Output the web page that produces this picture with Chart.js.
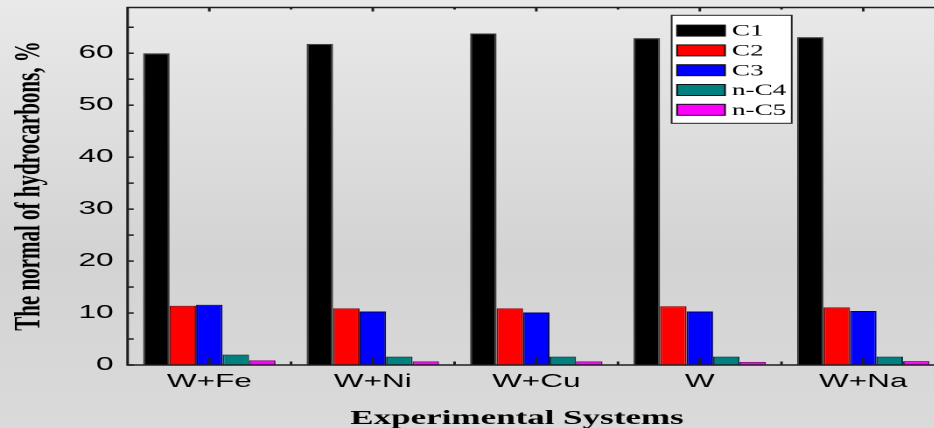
<!DOCTYPE html>
<html>
<head>
<meta charset="utf-8">
<script src="https://cdn.jsdelivr.net/npm/chart.js@4.4.1/dist/chart.umd.min.js"></script>
<style>
html, body { margin: 0; padding: 0; width: 934px; height: 428px; overflow: hidden; }
body { background: linear-gradient(to bottom, #e9e9e9 0%, #dedede 30%, #d3d3d3 60%, #dadada 100%); }
/* the original figure is stretched sideways, so draw narrow and scale it */
#wrap { position: absolute; left: 0; top: 0; width: 540px; height: 428px; transform: scaleX(1.75); transform-origin: 0 0; }
</style>
</head>
<body>
<div id="wrap"><canvas id="chart"></canvas></div>
<script>
const categories = ["W+Fe", "W+Ni", "W+Cu", "W", "W+Na"];
const c1 = [60.0, 61.8, 63.8, 62.9, 63.1];
const c2 = [11.4, 10.9, 10.9, 11.3, 11.1];
const c3 = [11.6, 10.3, 10.1, 10.3, 10.4];
const nC4 = [2.0, 1.6, 1.6, 1.6, 1.6];
const nC5 = [0.9, 0.7, 0.7, 0.6, 0.75];
const seriesLabels = ["C1", "C2", "C3", "n-C4", "n-C5"];
const seriesColors = ["#000000", "#ff0000", "#0000ff", "#008080", "#ff00ff"];
const seriesBorders = ["#3a3a3a", "#8b0000", "#00006e", "#003c3c", "#7a007a"];
const yMax = 68.8;
const yStep = 10;
const yMinorStep = 5;

const serifFont = '"Liberation Serif", "Times New Roman", serif';
const sansFont = '"Liberation Sans", Arial, sans-serif';

// frame and inward tick marks, drawn over the bars like the original
const framePlugin = {
    id: 'frame',
    afterDatasetsDraw(chart) {
        const { ctx, chartArea: a, scales: { x, y } } = chart;
        ctx.save();
        ctx.strokeStyle = '#1e1e1e';
        ctx.lineWidth = 1.5;
        const line = (x1, y1, x2, y2) => {
            ctx.beginPath(); ctx.moveTo(x1, y1); ctx.lineTo(x2, y2); ctx.stroke();
        };
        for (let v = 0; v <= yMax; v += yMinorStep) {
            const py = y.getPixelForValue(v);
            line(a.left, py, a.left + 3.5, py);
        }
        const centers = categories.map((c, i) => x.getPixelForValue(i));
        centers.forEach((px, i) => {
            line(px, a.bottom, px, a.bottom - 7);
            line(px, a.top, px, a.top + 4);
            const next = i < centers.length - 1 ? centers[i + 1] : px + (px - centers[i - 1]);
            const mid = (px + next) / 2;
            line(mid, a.bottom, mid, a.bottom - 3.5);
            line(mid, a.top, mid, a.top + 2);
        });
        ctx.strokeRect(a.left, a.top, a.right - a.left + 5, a.bottom - a.top);
        ctx.restore();
    }
};

const legendPlugin = {
    id: 'boxLegend',
    afterDraw(chart) {
        const ctx = chart.ctx;
        const bx = 383.8, by = 15.3, bw = 68.6, bh = 108;
        ctx.save();
        ctx.fillStyle = '#ffffff';
        ctx.fillRect(bx, by, bw, bh);
        ctx.strokeStyle = '#222';
        ctx.lineWidth = 1;
        ctx.strokeRect(bx, by, bw, bh);
        chart.data.datasets.forEach((ds, i) => {
            const cy = by + 15.3 + i * 19.8;
            ctx.fillStyle = ds.backgroundColor;
            ctx.fillRect(bx + 3.1, cy - 5.5, 27.4, 11);
            ctx.strokeStyle = '#111';
            ctx.strokeRect(bx + 3.1, cy - 5.5, 27.4, 11);
            ctx.fillStyle = '#000';
            ctx.font = '15.5px ' + serifFont;
            ctx.textBaseline = 'middle';
            ctx.textAlign = 'left';
            ctx.fillText(ds.label, bx + 34.5, cy + 1);
        });
        ctx.restore();
    }
};

const titlePlugin = {
    id: 'axisTitles',
    afterDraw(chart) {
        const ctx = chart.ctx;
        ctx.save();
        ctx.fillStyle = '#000';
        ctx.font = 'bold 20px ' + serifFont;
        ctx.textAlign = 'center';
        ctx.textBaseline = 'alphabetic';
        ctx.fillText('Experimental Systems', 295.4, 424);
        ctx.translate(22.5, 186);
        ctx.rotate(-Math.PI / 2);
        ctx.font = 'bold 21px ' + serifFont;
        ctx.fillText('The normal of hydrocarbons, %', 0, 0);
        ctx.restore();
    }
};

const seriesData = [c1, c2, c3, nC4, nC5];

const ctx = document.getElementById('chart').getContext('2d');
const chart = new Chart(ctx, {
    type: 'bar',
    data: {
        labels: categories,
        datasets: seriesData.map((d, i) => ({
            label: seriesLabels[i],
            data: d,
            backgroundColor: seriesColors[i],
            borderColor: seriesBorders[i],
            borderWidth: 1,
            barPercentage: 1,
            categoryPercentage: 0.81,
        })),
    },
    options: {
        responsive: true,
        maintainAspectRatio: false,
        animation: false,
        devicePixelRatio: 2,
        events: [],
        layout: { padding: { top: 7.5, left: 0, right: 0, bottom: 0 } },
        plugins: {
            legend: { display: false },
            tooltip: { enabled: false },
        },
        scales: {
            x: {
                offset: true,
                grid: { display: false, drawTicks: false },
                border: { display: false },
                ticks: {
                    color: '#000',
                    font: { family: sansFont, size: 18 },
                    padding: 6,
                    maxRotation: 0,
                    autoSkip: false,
                },
                afterFit: function(scale) {
                    scale.height = 63;
                    scale.paddingLeft = 0;
                    scale.paddingRight = 0;
                },
            },
            y: {
                min: 0,
                max: yMax,
                grid: { display: false, drawTicks: false },
                border: { display: false },
                ticks: {
                    stepSize: yStep,
                    includeBounds: false,
                    color: '#000',
                    font: { family: sansFont, size: 18 },
                    padding: 8,
                },
                afterFit: function(scale) {
                    scale.width = 72.9;
                    scale.paddingTop = 0;
                    scale.paddingBottom = 0;
                },
            },
        },
    },
    plugins: [framePlugin, legendPlugin, titlePlugin],
});
</script>
</body>
</html>
